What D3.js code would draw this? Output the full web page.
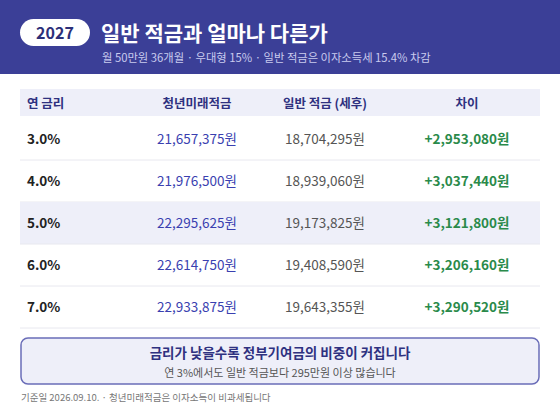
<!DOCTYPE html>
<html><head><meta charset="utf-8">
<script src="https://cdn.jsdelivr.net/npm/d3@7"></script>
<style>body{margin:0;background:#fff}svg{display:block;font-family:"Noto Sans CJK KR","Noto Sans",sans-serif}</style>
</head><body>
<script>
const rates = ["3.0%", "4.0%", "5.0%", "6.0%", "7.0%"];
const youthValues = [21657375, 21976500, 22295625, 22614750, 22933875];
const normalValues = [18704295, 18939060, 19173825, 19408590, 19643355];
const headers = ["연 금리", "청년미래적금", "일반 적금 (세후)", "차이"];
const highlightIndex = 2;

const W = 560, H = 420;
const svg = d3.select("body").append("svg").attr("width", W).attr("height", H);
const fmt = d3.format(",");

// header band
svg.append("rect").attr("width", W).attr("height", 74).attr("fill", "#3b3f97");
svg.append("rect").attr("x", 20).attr("y", 19).attr("width", 70).attr("height", 27).attr("rx", 13.5).attr("fill", "#fff");
svg.append("text").attr("x", 55).attr("y", 38.5).attr("text-anchor", "middle").attr("font-size", 16).attr("font-weight", 700).attr("fill", "#2c2f78").text("2027");
svg.append("text").attr("x", 101).attr("y", 41).attr("font-size", 21).attr("font-weight", 700).attr("fill", "#fff").text("일반 적금과 얼마나 다른가");
svg.append("text").attr("x", 102).attr("y", 62).attr("font-size", 11.3).attr("fill", "#c9cbee").text("월 50만원 36개월 · 우대형 15% · 일반 적금은 이자소득세 15.4% 차감");

// columns
const colX = [27, 197, 325, 467];
const anchors = ["start", "middle", "middle", "middle"];
const y = d3.scaleBand().domain(d3.range(rates.length)).range([118, 328]);

svg.append("rect").attr("x", 20).attr("y", 89).attr("width", 520).attr("height", 27).attr("fill", "#eeeff9");
headers.forEach((h, i) => svg.append("text").attr("x", colX[i]).attr("y", 108).attr("text-anchor", anchors[i])
  .attr("font-size", 12.5).attr("font-weight", 700).attr("fill", "#2e3180").text(h));

const rows = svg.selectAll("g.row").data(rates).join("g").attr("class", "row")
  .attr("transform", (d, i) => `translate(0,${y(i)})`);
rows.filter((d, i) => i === highlightIndex).append("rect").attr("x", 20).attr("width", 520).attr("height", y.bandwidth()).attr("fill", "#eeeff9");
rows.append("line").attr("x1", 20).attr("x2", 540).attr("y1", y.bandwidth()).attr("y2", y.bandwidth()).attr("stroke", "#e8e8ef");
const cy = y.bandwidth() / 2 + 5;
rows.append("text").attr("x", colX[0]).attr("y", cy).attr("font-size", 13.5).attr("font-weight", 600).attr("fill", "#222").text(d => d);
rows.append("text").attr("x", colX[1]).attr("y", cy).attr("text-anchor", "middle").attr("font-size", 13.5).attr("fill", "#3a3fb0").text((d, i) => fmt(youthValues[i]) + "원");
rows.append("text").attr("x", colX[2]).attr("y", cy).attr("text-anchor", "middle").attr("font-size", 13.5).attr("fill", "#555").text((d, i) => fmt(normalValues[i]) + "원");
rows.append("text").attr("x", colX[3]).attr("y", cy).attr("text-anchor", "middle").attr("font-size", 13.5).attr("font-weight", 700).attr("fill", "#2a8a4a").text((d, i) => "+" + fmt(youthValues[i] - normalValues[i]) + "원");

// note box
svg.append("rect").attr("x", 21).attr("y", 338).attr("width", 518).attr("height", 46).attr("rx", 7).attr("fill", "#eeeff9").attr("stroke", "#6a6db8").attr("stroke-width", 1.5);
svg.append("text").attr("x", 280).attr("y", 358).attr("text-anchor", "middle").attr("font-size", 13.5).attr("font-weight", 700).attr("fill", "#2e3180").text("금리가 낮을수록 정부기여금의 비중이 커집니다");
svg.append("text").attr("x", 280).attr("y", 377).attr("text-anchor", "middle").attr("font-size", 11).attr("fill", "#555").text("연 3%에서도 일반 적금보다 295만원 이상 많습니다");
svg.append("text").attr("x", 21).attr("y", 401).attr("font-size", 9.5).attr("fill", "#777").text("기준일 2026.09.10. · 청년미래적금은 이자소득이 비과세됩니다");
</script>
</body></html>
